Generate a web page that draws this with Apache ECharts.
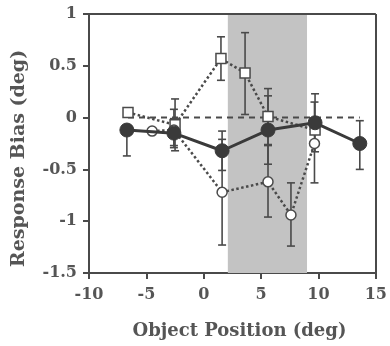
<!DOCTYPE html>
<html>
<head>
<meta charset="utf-8">
<script src="https://cdn.jsdelivr.net/npm/echarts@6/dist/echarts.min.js"></script>
<style>
  html, body { margin: 0; padding: 0; background: #fff; }
  #chart { width: 390px; height: 346px; }
</style>
</head>
<body>
<div id="chart"></div>
<script>
// values
const xTicks = [-10, -5, 0, 5, 10, 15];
const yTicks = [-1.5, -1, -0.5, 0, 0.5, 1];
const shadeRange = [2.1, 9];

// filled circles, solid line
const filledX = [-6.7, -2.6, 1.6, 5.6, 9.7, 13.6];
const filledY = [-0.12, -0.15, -0.32, -0.12, -0.05, -0.25];
const filledLo = [-0.37, -0.29, -0.51, -0.45, -0.33, -0.50];
const filledHi = [-0.12, -0.01, -0.13, 0.21, 0.23, -0.03];

// open squares, dotted line
const squareX = [-6.6, -2.5, 1.5, 3.6, 5.6, 9.7];
const squareY = [0.05, -0.07, 0.57, 0.43, 0.01, -0.12];
const squareLo = [0.05, -0.32, 0.36, 0.03, -0.26, -0.12];
const squareHi = [0.05, 0.18, 0.78, 0.82, 0.28, -0.12];

// open circles, dotted line
const circleX = [-4.5, -2.6, 1.6, 5.6, 7.6, 9.65];
const circleY = [-0.13, -0.12, -0.72, -0.62, -0.94, -0.25];
const circleLo = [-0.13, -0.27, -1.23, -0.96, -1.24, -0.63];
const circleHi = [-0.13, 0.08, -0.21, -0.27, -0.63, 0.15];

// dashed reference line
const dashX = [-6.6, 13.6];
const dashY = [0, 0];

const ink = '#4a4a4a';
const font = 'DejaVu Serif';

function zip(xs, ys) { return xs.map((x, i) => [x, ys[i]]); }
function errData(xs, lo, hi) { return xs.map((x, i) => [x, lo[i], hi[i]]); }

function errBars(data) {
  return {
    type: 'custom',
    z: 2,
    silent: true,
    data: data,
    encode: { x: 0, y: [1, 2] },
    renderItem: function (params, api) {
      const x = api.value(0), lo = api.value(1), hi = api.value(2);
      if (lo === hi) return null;
      const a = api.coord([x, hi]);
      const b = api.coord([x, lo]);
      const w = 4;
      const st = { stroke: ink, lineWidth: 1.6 };
      return {
        type: 'group',
        children: [
          { type: 'line', shape: { x1: a[0], y1: a[1], x2: b[0], y2: b[1] }, style: st },
          { type: 'line', shape: { x1: a[0] - w, y1: a[1], x2: a[0] + w, y2: a[1] }, style: st },
          { type: 'line', shape: { x1: b[0] - w, y1: b[1], x2: b[0] + w, y2: b[1] }, style: st }
        ]
      };
    }
  };
}

const chart = echarts.init(document.getElementById('chart'));
chart.setOption({
  animation: false,
  grid: { left: 89, right: 13, top: 14, bottom: 73 },
  xAxis: {
    type: 'value',
    min: -10, max: 15, interval: 5,
    name: 'Object Position (deg)',
    nameLocation: 'middle',
    nameGap: 49,
    nameTextStyle: { fontFamily: font, fontWeight: 'bold', fontSize: 18, color: '#555', padding: [0, 0, 0, 14] },
    axisLine: { onZero: false, lineStyle: { color: ink, width: 2 } },
    axisTick: { inside: false, length: 6, lineStyle: { color: ink, width: 2 } },
    axisLabel: { margin: 14, fontFamily: font, fontWeight: 'bold', fontSize: 16, color: '#555' },
    splitLine: { show: false }
  },
  yAxis: {
    type: 'value',
    min: -1.5, max: 1, interval: 0.5,
    name: 'Response Bias (deg)',
    nameLocation: 'middle',
    nameGap: 60,
    nameTextStyle: { fontFamily: font, fontWeight: 'bold', fontSize: 19, color: '#555', padding: [0, 30, 0, 0] },
    axisLine: { onZero: false, lineStyle: { color: ink, width: 2 } },
    axisTick: { inside: false, length: 6, lineStyle: { color: ink, width: 2 } },
    axisLabel: { margin: 12, fontFamily: font, fontWeight: 'bold', fontSize: 16, color: '#555' },
    splitLine: { show: false }
  },
  series: [
    {
      // shaded band and the top/right frame
      type: 'line',
      data: [],
      markArea: {
        silent: true,
        itemStyle: { color: '#c3c3c3' },
        data: [[{ xAxis: shadeRange[0] }, { xAxis: shadeRange[1] }]]
      },
      markLine: {
        silent: true,
        symbol: 'none',
        label: { show: false },
        lineStyle: { color: ink, width: 2, type: 'solid' },
        data: [{ yAxis: 1 }, { xAxis: 15 }]
      }
    },
    errBars(errData(squareX, squareLo, squareHi)),
    errBars(errData(circleX, circleLo, circleHi)),
    errBars(errData(filledX, filledLo, filledHi)),
    {
      type: 'line',
      data: zip(dashX, dashY),
      symbol: 'none',
      z: 3,
      lineStyle: { color: ink, width: 2, type: [6, 5] }
    },
    {
      type: 'line',
      data: zip(squareX, squareY),
      symbol: 'rect',
      symbolSize: 10,
      z: 4,
      lineStyle: { color: ink, width: 2.5, type: 'dotted' },
      itemStyle: { color: '#fff', borderColor: ink, borderWidth: 1.5 }
    },
    {
      type: 'line',
      data: zip(circleX, circleY),
      symbol: 'circle',
      symbolSize: 10,
      z: 4,
      lineStyle: { color: ink, width: 2.5, type: 'dotted' },
      itemStyle: { color: '#fff', borderColor: ink, borderWidth: 1.5 }
    },
    {
      type: 'line',
      data: zip(filledX, filledY),
      symbol: 'circle',
      symbolSize: 14,
      z: 5,
      lineStyle: { color: '#3a3a3a', width: 3 },
      itemStyle: { color: '#3a3a3a', borderColor: '#3a3a3a', borderWidth: 1 }
    }
  ]
});
</script>
</body>
</html>
